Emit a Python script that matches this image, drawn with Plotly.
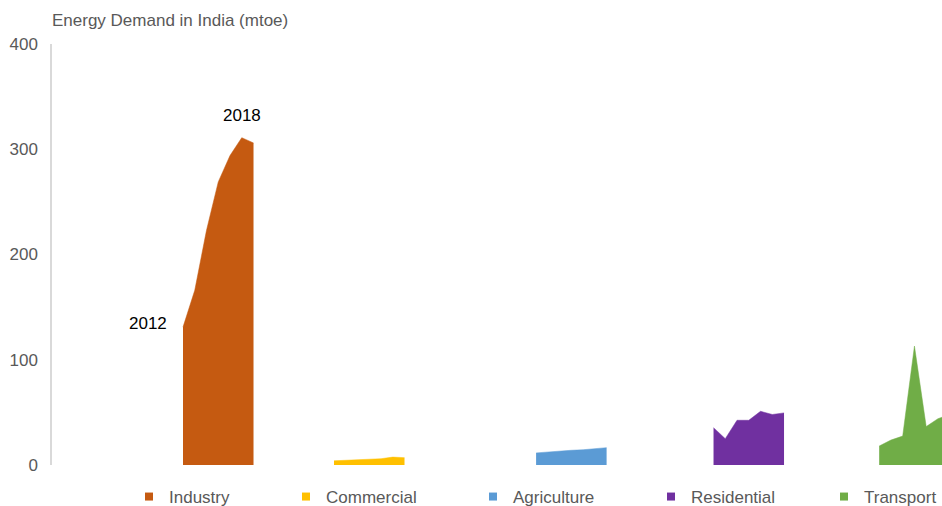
import plotly.graph_objects as go

# ---- data ----
years = [2012, 2013, 2014, 2015, 2016, 2017, 2018]
sectors = ["Industry", "Commercial", "Agriculture", "Residential", "Transport"]
industry = [131, 166, 223, 269, 294, 311, 306]
commercial = [4.0, 4.5, 5.0, 5.5, 6.0, 7.5, 7.0]
agriculture = [11.5, 12.5, 13.0, 14.0, 14.5, 15.5, 16.5]
residential = [35.5, 25.0, 42.5, 42.5, 51.0, 48.0, 49.5]
transport = [18.0, 23.7, 27.5, 113.0, 36.5, 44.0, 48.0]
# category-axis slot where each sector's 2012 value starts
sector_start = [11.15, 24.0, 41.2, 56.3, 70.4]
colors = ["#C55A11", "#FFC000", "#5B9BD5", "#7030A0", "#70AD47"]
y_ticks = [0, 100, 200, 300, 400]

values = [industry, commercial, agriculture, residential, transport]

W, H = 942, 506
ml, mr, mt, mb = 52, 0, 44, 506 - 465
plot_w = W - ml - mr
unit_px = 11.75
x_span = plot_w / unit_px

# legend label start positions in page pixels
legend_text_px = [165, 322, 509, 687, 868]

fig = go.Figure()
font_family = "Liberation Sans, Arial, sans-serif"
grey = "#595959"
FS = 17

for i, (name, vals) in enumerate(zip(sectors, values)):
    xs = [sector_start[i] + (y - years[0]) for y in years]
    fig.add_trace(go.Scatter(
        x=xs, y=vals, mode="lines", fill="tozeroy",
        line=dict(color=colors[i], width=0.5),
        fillcolor=colors[i], name=name, showlegend=False,
        hoverinfo="x+y",
    ))
    lg = "legend" if i == 0 else f"legend{i+1}"
    fig.add_trace(go.Scatter(
        x=[None], y=[None], mode="markers",
        marker=dict(symbol="square", size=8, color=colors[i]),
        name=name, showlegend=True, legend=lg,
    ))

legend_common = dict(
    orientation="h", yref="container", y=1 - 497 / H, yanchor="middle",
    xanchor="left", font=dict(family=font_family, size=FS, color=grey),
    bgcolor="rgba(0,0,0,0)", itemwidth=30, tracegroupgap=0,
)
layout_legends = {}
for i in range(len(sectors)):
    key = "legend" if i == 0 else f"legend{i+1}"
    d = dict(legend_common)
    left_px = legend_text_px[i] - 40 + 4
    d["x"] = (left_px - ml) / plot_w
    layout_legends[key] = d

ix0 = sector_start[0]
fig.add_annotation(x=ix0, y=industry[0], text=str(years[0]), showarrow=False,
                   xanchor="right", yanchor="middle", xshift=-14, yshift=4,
                   font=dict(family=font_family, size=FS, color="#000000"))
fig.add_annotation(x=ix0 + 5, y=industry[5], text=str(years[-1]), showarrow=False,
                   xanchor="center", yanchor="bottom", yshift=11,
                   font=dict(family=font_family, size=FS, color="#000000"))

fig.update_layout(
    width=W, height=H,
    margin=dict(l=ml, r=mr, t=mt, b=mb),
    paper_bgcolor="white", plot_bgcolor="white",
    title=dict(text="Energy Demand in India (mtoe)", x=ml / W, xanchor="left",
               xref="container", yref="container", y=1 - 20 / H,
               yanchor="middle",
               font=dict(family=font_family, size=FS, color=grey)),
    xaxis=dict(range=[0, x_span], visible=False, fixedrange=True),
    yaxis=dict(range=[0, 400], tickvals=y_ticks, showgrid=False, zeroline=False,
               showline=True, linecolor="#D9D9D9", linewidth=1.5, ticks="",
               ticklabelstandoff=9, fixedrange=True,
               tickfont=dict(family=font_family, size=FS, color=grey)),
    **layout_legends,
)

fig.write_html(
    "out.html",
    config={"displayModeBar": False},
    post_script="document.body.style.margin='0';document.body.style.overflow='hidden';",
)
